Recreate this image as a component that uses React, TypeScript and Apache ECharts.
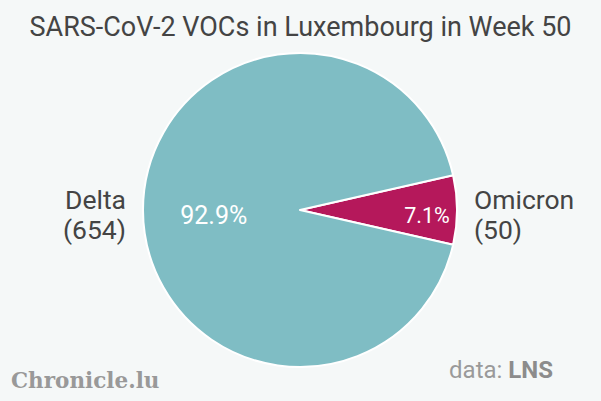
import React, { useEffect, useRef } from "react";
import * as echarts from "echarts";

const categories = ["Omicron", "Delta"];
const counts = [50, 654];
const colors = ["#b5185b", "#7fbdc4"];

const R = 157;
const omicronShare = counts[0] / (counts[0] + counts[1]);
const startAngle = (omicronShare * 360) / 2;

export default function App() {
  const ref = useRef<HTMLDivElement>(null);
  useEffect(() => {
    if (!ref.current) return;
    const chart = echarts.init(ref.current, null, { renderer: "svg" });
    const font = "Roboto, 'Noto Sans', sans-serif";
    const baseData = categories.map((c, i) => ({
      name: c,
      value: counts[i],
      itemStyle: { color: colors[i] },
    }));
    const overlay = (showIdx: number, r0: number, size: number) => ({
      type: "pie",
      center: [300, 215],
      radius: [r0, R],
      startAngle,
      silent: true,
      percentPrecision: 1,
      z: 5,
      itemStyle: { color: "transparent", borderWidth: 0 },
      labelLine: { show: false },
      label: {
        position: "inside",
        formatter: "{d}%",
        color: "#ffffff",
        fontSize: size,
        fontFamily: font,
      },
      data: categories.map((c, i) => ({
        name: c,
        value: counts[i],
        itemStyle: { color: "transparent" },
        label: { show: i === showIdx },
      })),
    });
    chart.setOption({
      animation: false,
      backgroundColor: "#f5f8f8",
      graphic: [
        {
          type: "text",
          left: "center",
          top: 13,
          style: {
            text: "SARS-CoV-2 VOCs in Luxembourg in Week 50",
            fontSize: 27,
            fontFamily: font,
            fill: "#444444",
          },
        },
        {
          type: "text",
          right: 48,
          top: 358,
          style: {
            text: "{a|data: }{b|LNS}",
            rich: {
              a: { fontSize: 24, fontFamily: font, fill: "#9a9a9a" },
              b: { fontSize: 24, fontFamily: font, fill: "#8c8c8c", fontWeight: "bold" },
            },
          },
        },
        {
          type: "text",
          left: 11,
          top: 369,
          style: {
            text: "Chronicle.lu",
            fontSize: 21.5,
            fontFamily: "'DejaVu Serif', serif",
            fontWeight: "bold",
            fill: "#999999",
          },
        },
      ],
      series: [
        {
          type: "pie",
          center: [300, 210],
          radius: [0, R],
          startAngle,
          itemStyle: { borderColor: "#ffffff", borderWidth: 2 },
          label: { show: false },
          labelLine: { show: false },
          data: baseData,
        },
        {
          type: "pie",
          center: [300, 214],
          radius: [0, R],
          startAngle,
          silent: true,
          z: 5,
          itemStyle: { color: "transparent", borderWidth: 0 },
          label: {
            show: true,
            position: "outside",
            formatter: "{b}\n({c})",
            fontSize: 26.5,
            lineHeight: 30,
            fontFamily: font,
            color: "#444444",
          },
          labelLine: { show: false, length: 12, length2: 0 },
          data: categories.map((c, i) => ({
            name: c,
            value: counts[i],
            itemStyle: { color: "transparent" },
          })),
        },
        overlay(0, 0.58 * R, 21.5),
        overlay(1, 0.06 * R, 25),
      ],
    });
    return () => chart.dispose();
  }, []);
  return (
    <div
      ref={ref}
      style={{ position: "fixed", left: 0, top: 0, width: 601, height: 401 }}
    />
  );
}
